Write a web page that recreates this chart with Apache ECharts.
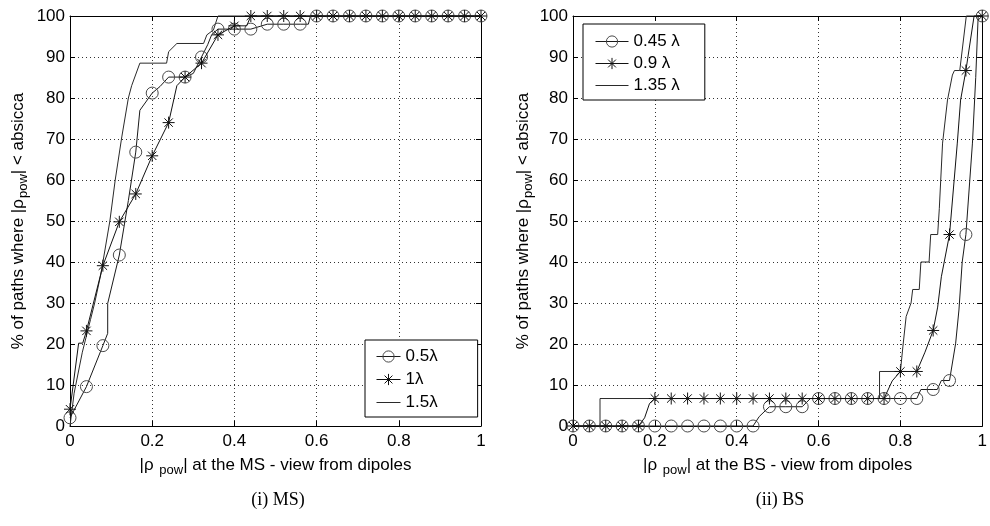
<!DOCTYPE html>
<html><head><meta charset="utf-8">
<script src="https://cdn.jsdelivr.net/npm/echarts@6/dist/echarts.min.js"></script>
<style>html,body{margin:0;padding:0;background:#fff}#c{width:990px;height:526px}</style>
</head><body><div id="c"></div>
<script>
// marker abscissas (every 0.04)
const markerX = [0,0.04,0.08,0.12,0.16,0.2,0.24,0.28,0.32,0.36,0.4,0.44,0.48,0.52,0.56,0.6,0.64,0.68,0.72,0.76,0.8,0.84,0.88,0.92,0.96,1];

// (i) MS
const ms05 = [2,9.6,19.6,41.7,66.8,81.2,85.1,85.1,90,96.8,96.8,96.8,98,98,98,100,100,100,100,100,100,100,100,100,100,100];
const ms05Extra = [[0.0917,22.6],[0.0917,29.9],[0.142,55],[0.17,77],[0.219,82.8],[0.3,86],[0.335,93],[0.345,95.5],[0.58,98],[0.585,100]];
const ms1 = [4.1,23.2,39.1,49.8,56.6,65.9,74,85.1,88.5,95.4,97.6,100,100,100,100,100,100,100,100,100,100,100,100,100,100,100];
const ms1Extra = [[0.021,20.2],[0.031,20.2],[0.26,83],[0.43,97.6]];
const ms15 = [[0,0],[0.01,8],[0.03,18],[0.05,26],[0.06,30],[0.075,37],[0.097,50],[0.11,60],[0.126,70.5],[0.142,80],[0.15,83],[0.17,88.5],[0.235,88.5],[0.24,91.3],[0.26,93.3],[0.325,93.3],[0.333,95.4],[0.349,96.6],[0.36,100],[1,100]];

// (ii) BS
const bs045 = [0,0,0,0,0,0,0,0,0,0,0,0,4.7,4.7,4.7,6.7,6.7,6.7,6.7,6.7,6.7,6.7,8.9,11.1,46.7,100];
const bs045Extra = [[0.455,2.3],[0.58,6.7],[0.85,8.9],[0.89,8.9],[0.9,11.1],[0.935,20.2],[0.943,28.3],[0.951,40],[0.976,69],[0.984,85],[0.99,100]];
const bs09 = [0,0,0,0,0,6.7,6.7,6.7,6.7,6.7,6.7,6.7,6.7,6.7,6.7,6.7,6.7,6.7,6.7,6.7,13.3,13.3,23.3,46.7,86.7,100];
const bs09Extra = [[0.175,2],[0.187,5.5],[0.78,11],[0.86,18],[0.891,29],[0.9,36.4],[0.939,69],[0.947,79.5],[0.98,100]];
const bs135 = [[0,0],[0.066,0],[0.066,6.7],[0.749,6.7],[0.749,13.3],[0.8,13.3],[0.806,19.3],[0.814,26.7],[0.818,26.7],[0.826,30],[0.83,33.3],[0.846,33.3],[0.85,40],[0.87,40],[0.874,46.7],[0.891,46.7],[0.895,53],[0.903,69],[0.915,79.5],[0.927,85.6],[0.932,86.7],[0.945,86.7],[0.961,100],[1,100]];

const msNames = ['0.5λ','1λ','1.5λ'];
const bsNames = ['0.45 λ','0.9 λ','1.35 λ'];
const captions = ['(i) MS)','(ii) BS'];

function build(ys, extras){
  const pts = markerX.map((x,i)=>({v:[x,ys[i]], m:true}));
  extras.forEach(p=>pts.push({v:p, m:false}));
  pts.sort((a,b)=>a.v[0]-b.v[0] || a.v[1]-b.v[1]);
  return pts.map(p=>p.m ? {value:p.v} : {value:p.v, symbol:'none'});
}

const FONT = '"Liberation Sans", Arial, sans-serif';
const STAR = 'path://M5,0L5,10M0,5L10,5M1.5,1.5L8.5,8.5M8.5,1.5L1.5,8.5';

function xAx(g, name){
  return {type:'value', gridIndex:g, min:0, max:1, interval:0.2,
    axisLine:{show:true, onZero:false, lineStyle:{color:'#000'}},
    axisTick:{show:true, inside:true, length:5, lineStyle:{color:'#000'}},
    axisLabel:{fontSize:17, color:'#000', fontFamily:FONT, margin:7},
    splitLine:{show:true, lineStyle:{color:'#333', type:[1,3]}},
    name:name, nameLocation:'middle', nameGap:27,
    nameTextStyle:{fontSize:17, color:'#000', fontFamily:FONT,
      rich:{s:{fontSize:13, fontFamily:FONT, color:'#000', padding:[11,0,0,1]}}}
  };
}
function xTop(g){
  return {type:'value', gridIndex:g, min:0, max:1, interval:0.2, position:'top',
    axisLine:{show:true, onZero:false, lineStyle:{color:'#000'}},
    axisTick:{show:true, inside:true, length:5, lineStyle:{color:'#000'}},
    axisLabel:{show:false}, splitLine:{show:false}};
}
function yAx(g, name, gap){
  return {type:'value', gridIndex:g, min:0, max:100, interval:10,
    axisLine:{show:true, onZero:false, lineStyle:{color:'#000'}},
    axisTick:{show:true, inside:true, length:5, lineStyle:{color:'#000'}},
    axisLabel:{fontSize:17, color:'#000', fontFamily:FONT, margin:5},
    splitLine:{show:true, lineStyle:{color:'#333', type:[1,3]}},
    name:name, nameLocation:'middle', nameGap:gap, nameRotate:90,
    nameTextStyle:{fontSize:17, color:'#000', fontFamily:FONT,
      rich:{s:{fontSize:13, fontFamily:FONT, color:'#000', padding:[11,0,0,1]}}}
  };
}
function yRight(g){
  return {type:'value', gridIndex:g, min:0, max:100, interval:10, position:'right',
    axisLine:{show:true, onZero:false, lineStyle:{color:'#000'}},
    axisTick:{show:true, inside:true, length:5, lineStyle:{color:'#000'}},
    axisLabel:{show:false}, splitLine:{show:false}};
}

function circleSeries(name, xi, yi, data){
  return {name, type:'line', xAxisIndex:xi, yAxisIndex:yi, data, clip:false, silent:true,
    symbol:'circle', symbolSize:12, showSymbol:true,
    lineStyle:{color:'#1a1a1a', width:1},
    itemStyle:{color:'rgba(255,255,255,0)', borderColor:'#4a4a4a', borderWidth:1}, z:3};
}
function starSeries(name, xi, yi, data){
  return {name, type:'line', xAxisIndex:xi, yAxisIndex:yi, data, clip:false, silent:true,
    symbol:STAR, symbolSize:12, showSymbol:true,
    lineStyle:{color:'#111', width:1},
    itemStyle:{color:'rgba(255,255,255,0)', borderColor:'#111', borderWidth:1}, z:4};
}
function plainSeries(name, xi, yi, data){
  return {name, type:'line', xAxisIndex:xi, yAxisIndex:yi, data, clip:false, silent:true,
    symbol:'none', lineStyle:{color:'#2a2a2a', width:1}, itemStyle:{color:'#2a2a2a'}, z:2};
}

const legendCommon = {orient:'vertical', backgroundColor:'#fff', borderColor:'#000', borderWidth:1,
  itemHeight:14, textStyle:{fontSize:17, color:'#000', fontFamily:FONT}, selectedMode:false,
  itemStyle:{borderWidth:1}, lineStyle:{width:1}};

const chart = echarts.init(document.getElementById('c'), null, {renderer:'canvas'});
chart.setOption({
  animation:false,
  backgroundColor:'#fff',
  grid:[
    {left:70, top:16, width:411, height:410, show:false},
    {left:573, top:16, width:412, height:410, show:false}
  ],
  xAxis:[ xAx(0,'|ρ {s|pow}| at the MS - view from dipoles'), xAx(1,'|ρ {s|pow}| at the BS - view from dipoles'), xTop(0), xTop(1) ],
  yAxis:[ yAx(0,'% of paths where |ρ{s|pow}| < absicca',40), yAx(1,'% of paths where |ρ{s|pow}| < absicca',38), yRight(0), yRight(1) ],
  legend:[
    Object.assign({}, legendCommon, {
      data:[msNames[0], msNames[1], {name:msNames[2], icon:'path://M0,0L24,0L24,1L0,1Z'}],
      left:365, top:340, padding:[8,40,6,11], itemWidth:24, itemGap:6}),
    Object.assign({}, legendCommon, {
      data:[bsNames[0], bsNames[1], {name:bsNames[2], icon:'path://M0,0L33,0L33,1L0,1Z'}],
      left:583, top:24, padding:[9,25,6,12], itemWidth:33, itemGap:5})
  ],
  series:[
    circleSeries(msNames[0],0,0,build(ms05,ms05Extra)),
    starSeries(msNames[1],0,0,build(ms1,ms1Extra)),
    plainSeries(msNames[2],0,0,ms15),
    circleSeries(bsNames[0],1,1,build(bs045,bs045Extra)),
    starSeries(bsNames[1],1,1,build(bs09,bs09Extra)),
    plainSeries(bsNames[2],1,1,bs135)
  ],
  graphic:[
    {type:'text', x:278, y:500, style:{text:captions[0], font:'18px "Liberation Serif", serif', fill:'#000', align:'center', verticalAlign:'middle'}},
    {type:'text', x:780, y:500, style:{text:captions[1], font:'18px "Liberation Serif", serif', fill:'#000', align:'center', verticalAlign:'middle'}}
  ]
});
</script>
</body></html>
